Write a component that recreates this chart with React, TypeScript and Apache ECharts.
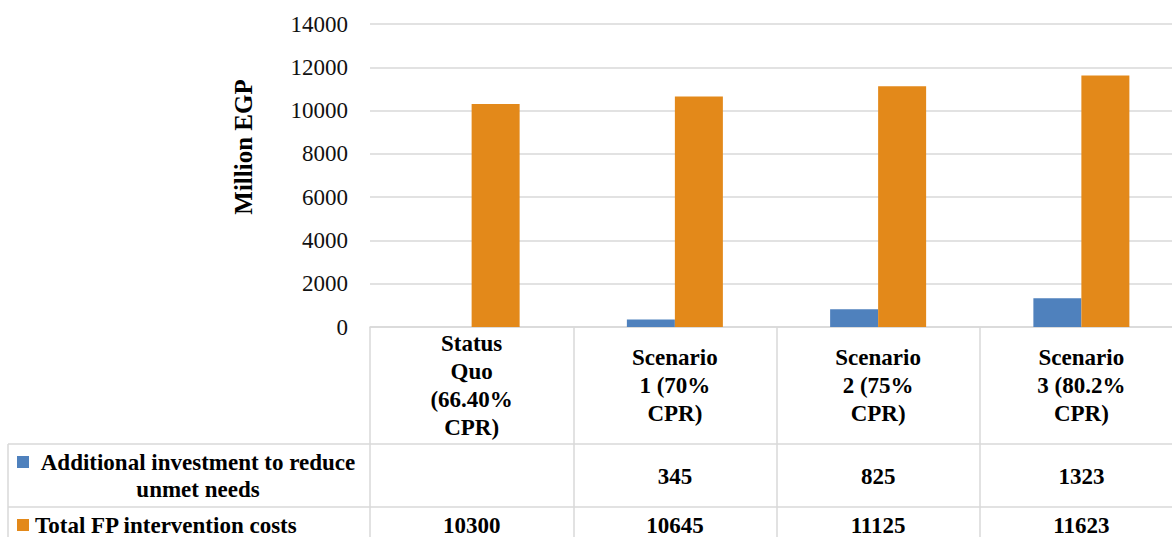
import React, { useEffect, useRef } from "react";
import * as echarts from "echarts";

const categories = [
  "Status\nQuo\n(66.40%\nCPR)",
  "Scenario\n1 (70%\nCPR)",
  "Scenario\n2 (75%\nCPR)",
  "Scenario\n3 (80.2%\nCPR)",
];
const seriesNames = [
  "Additional investment to reduce unmet needs",
  "Total FP intervention costs",
];
const legendLabels = [
  "Additional investment to reduce\nunmet needs",
  "Total FP intervention costs",
];
const additional: (number | null)[] = [null, 345, 825, 1323];
const total: (number | null)[] = [10300, 10645, 11125, 11623];
const colors = ["#4F81BD", "#E3891A"];
const yMin = 0;
const yMax = 14000;
const yInterval = 2000;
const axisTitle = "Million EGP";

const FONT = "Tinos, Liberation Serif, Times New Roman, serif";
const GRID = "#d9d9d9";

export default function App() {
  const ref = useRef<HTMLDivElement>(null);
  useEffect(() => {
    if (!ref.current) return;
    const chart = echarts.init(ref.current, undefined, { renderer: "svg" });
    const option: any = {
      animation: false,
      textStyle: { fontFamily: FONT },
      grid: { left: 370, right: 0, top: 24, height: 303 },
      xAxis: {
        type: "category",
        data: categories,
        boundaryGap: true,
        axisLine: { show: true, lineStyle: { color: GRID, width: 1.5 } },
        axisTick: {
          show: true,
          interval: 0,
          length: 215,
          lineStyle: { color: GRID, width: 1.5 },
        },
        axisLabel: {
          interval: 0,
          margin: 58,
          verticalAlign: "middle",
          fontFamily: FONT,
          fontWeight: "bold",
          fontSize: 23,
          lineHeight: 28,
          color: "#000",
        },
      },
      yAxis: {
        type: "value",
        min: yMin,
        max: yMax,
        interval: yInterval,
        axisLine: { show: false },
        axisTick: { show: false },
        splitLine: { lineStyle: { color: GRID, width: 1.5 } },
        axisLabel: {
          margin: 22,
          fontFamily: FONT,
          fontSize: 23,
          color: "#111",
          formatter: (v: number) => String(v),
        },
      },
      series: [
        {
          name: seriesNames[0],
          type: "bar",
          data: additional,
          barWidth: 48,
          barGap: "0%",
          itemStyle: { color: colors[0] },
        },
        {
          name: seriesNames[1],
          type: "bar",
          data: total,
          barWidth: 48,
          barGap: "0%",
          itemStyle: { color: colors[1] },
        },
      ],
    };
    chart.setOption(option);

    const xs = categories.map(
      (_, i) => chart.convertToPixel({ xAxisIndex: 0 }, i) as number
    );
    const rows = [additional, total];
    const rowY = [476, 525];
    const lineStyle = { stroke: GRID, lineWidth: 1.5 };
    const textStyle = {
      fontFamily: FONT,
      fontWeight: "bold",
      fontSize: 23,
      fill: "#000",
    };
    const graphics: any[] = [
      { type: "line", shape: { x1: 8, y1: 444, x2: 1183, y2: 444 }, style: lineStyle },
      { type: "line", shape: { x1: 8, y1: 507, x2: 1183, y2: 507 }, style: lineStyle },
      { type: "line", shape: { x1: 8, y1: 444, x2: 8, y2: 540 }, style: lineStyle },
      {
        type: "text",
        x: 243,
        y: 147,
        rotation: Math.PI / 2,
        style: {
          ...textStyle,
          fontSize: 25,
          text: axisTitle,
          align: "center",
          verticalAlign: "middle",
        },
      },
      { type: "rect", shape: { x: 17, y: 456, width: 12, height: 12 }, style: { fill: colors[0] } },
      {
        type: "text",
        x: 198,
        y: 476,
        style: {
          ...textStyle,
          text: legendLabels[0],
          lineHeight: 27,
          align: "center",
          verticalAlign: "middle",
        },
      },
      { type: "rect", shape: { x: 17, y: 519, width: 12, height: 12 }, style: { fill: colors[1] } },
      {
        type: "text",
        x: 35,
        y: 525,
        style: {
          ...textStyle,
          text: legendLabels[1],
          align: "left",
          verticalAlign: "middle",
        },
      },
    ];
    rows.forEach((row, r) => {
      row.forEach((v, i) => {
        if (v == null) return;
        graphics.push({
          type: "text",
          x: xs[i],
          y: rowY[r],
          style: {
            ...textStyle,
            text: String(v),
            align: "center",
            verticalAlign: "middle",
          },
        });
      });
    });
    chart.setOption({ graphic: graphics });
    return () => chart.dispose();
  }, []);
  return (
    <div
      style={{
        position: "absolute",
        left: 0,
        top: 0,
        width: 1172,
        height: 537,
        overflow: "hidden",
        background: "#fff",
      }}
    >
      <div ref={ref} style={{ width: 1183, height: 537 }} />
    </div>
  );
}
